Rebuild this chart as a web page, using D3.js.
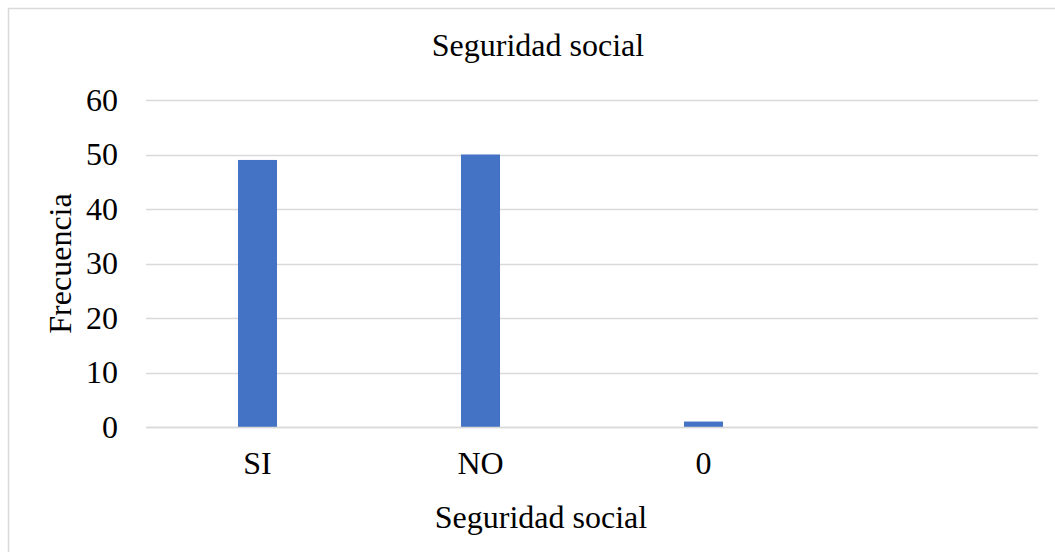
<!DOCTYPE html>
<html>
<head>
<meta charset="utf-8">
<script src="https://cdn.jsdelivr.net/npm/d3@7"></script>
<style>
  html, body { margin: 0; padding: 0; background: #fff; overflow: hidden; }
  text { font-family: "Liberation Serif", "Times New Roman", serif; fill: #000; }
</style>
</head>
<body>
<svg id="chart" width="1055" height="552"></svg>
<script>
// Frecuencias por categoría de seguridad social
const categories = ["SI", "NO", "0", ""];
const values = [49, 50, 1, null];
const yTicks = [0, 10, 20, 30, 40, 50, 60];
const chartTitle = "Seguridad social";
const xTitle = "Seguridad social";
const yTitle = "Frecuencia";

const svg = d3.select("#chart");
const W = 1055, H = 552;
const margin = { left: 146, right: 17, top: 100, bottom: 125 };
const FONT = "'Liberation Serif', 'Times New Roman', serif";
const FS = "32px";

// outer chart frame (runs off the right and bottom edges)
svg.append("rect")
  .attr("x", 8.5).attr("y", 8.5)
  .attr("width", W + 20).attr("height", H + 20)
  .attr("fill", "#fff").attr("stroke", "#d9d9d9").attr("stroke-width", 1.5);

const x = d3.scaleBand()
  .domain(categories.map((c, i) => i))
  .range([margin.left, W - margin.right])
  .paddingInner(0.825).paddingOuter(0.4125);

const y = d3.scaleLinear()
  .domain([0, 60])
  .range([H - margin.bottom, margin.top]);

// horizontal gridlines
svg.append("g")
  .selectAll("line")
  .data(yTicks)
  .join("line")
  .attr("x1", margin.left).attr("x2", W - margin.right)
  .attr("y1", d => Math.round(y(d)) + 0.5).attr("y2", d => Math.round(y(d)) + 0.5)
  .attr("stroke", "#d9d9d9").attr("stroke-width", 1.5);

// y tick labels
const yAxis = d3.axisLeft(y).tickValues(yTicks).tickSize(0).tickPadding(0);
const gy = svg.append("g")
  .attr("transform", `translate(${margin.left - 28},0)`)
  .call(yAxis);
gy.select(".domain").remove();
gy.selectAll("text")
  .style("font-family", FONT)
  .style("font-size", FS).attr("fill", "#000");

// bars
svg.append("g")
  .selectAll("rect")
  .data(values.map((v, i) => ({ i, v })).filter(d => d.v != null))
  .join("rect")
  .attr("x", d => x(d.i))
  .attr("width", x.bandwidth())
  .attr("y", d => y(d.v))
  .attr("height", d => y(0) - y(d.v))
  .attr("fill", "#4472c4");

// baseline
svg.append("line")
  .attr("x1", margin.left).attr("x2", W - margin.right)
  .attr("y1", Math.round(y(0)) + 0.5).attr("y2", Math.round(y(0)) + 0.5)
  .attr("stroke", "#d9d9d9").attr("stroke-width", 1.5);

// x category labels
const xAxis = d3.axisBottom(x).tickFormat(i => categories[i]).tickSize(0).tickPadding(0);
const gx = svg.append("g")
  .attr("transform", `translate(0,${y(0) + 24})`)
  .call(xAxis);
gx.select(".domain").remove();
gx.selectAll("text")
  .attr("dy", "0.71em")
  .style("font-family", FONT)
  .style("font-size", FS).attr("fill", "#000");

// titles
svg.append("text")
  .attr("x", 538).attr("y", 56)
  .attr("text-anchor", "middle")
  .style("font-size", FS)
  .text(chartTitle);

svg.append("text")
  .attr("x", 541).attr("y", 528)
  .attr("text-anchor", "middle")
  .style("font-size", FS)
  .text(xTitle);

svg.append("text")
  .attr("transform", `translate(71,${(y(0) + y(60)) / 2}) rotate(-90)`)
  .attr("text-anchor", "middle")
  .style("font-size", FS)
  .text(yTitle);
</script>
</body>
</html>
